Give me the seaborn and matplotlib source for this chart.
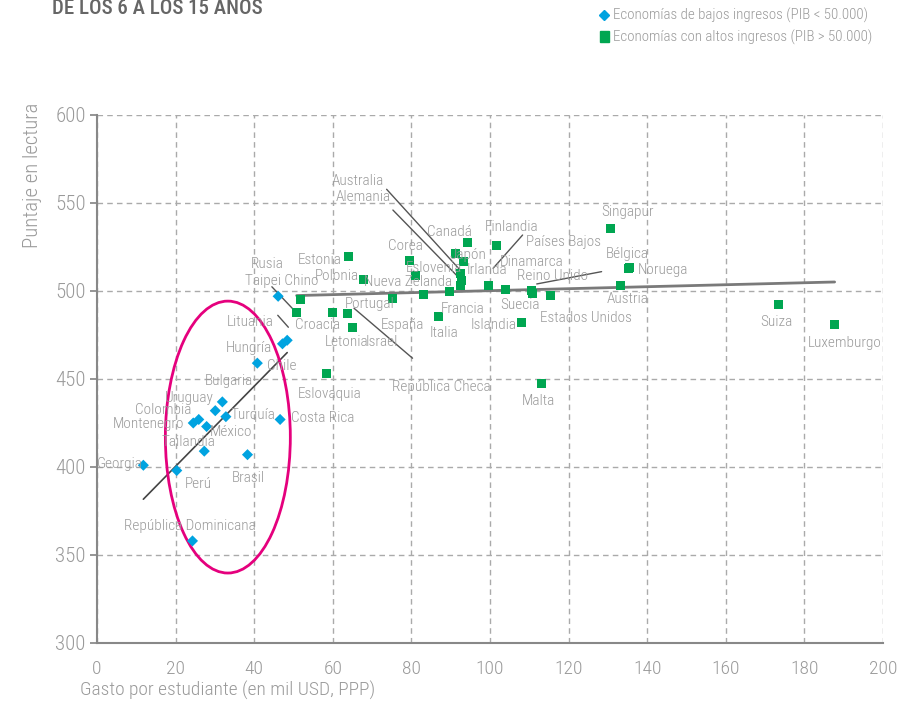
import matplotlib
matplotlib.use("Agg")
import matplotlib.pyplot as plt
from matplotlib.patches import Ellipse
from matplotlib.lines import Line2D
import pandas as pd
import seaborn as sns

# ── datos: economías de bajos ingresos ──
low_names = ["Georgia", "Perú", "República Dominicana", "Tailandia", "Montenegro",
             "Colombia", "México", "Uruguay", "Bulgaria", "Turquía", "Brasil",
             "Costa Rica", "Hungría", "Chile", "Lituania", "Rusia"]
low_gasto = [11.8, 20.3, 24.3, 27.3, 24.5, 25.9, 27.9, 30.1, 31.9, 32.8, 38.3,
             46.6, 40.8, 47.2, 48.4, 46.1]
low_lectura = [401, 398, 358, 409, 425, 427, 423, 432, 437, 428.6, 407,
               427, 459, 470, 472, 497]

# ── datos: economías de altos ingresos ──
high_names = ["Taipei Chino", "Croacia", "Letonia", "República Checa", "Israel",
              "Portugal", "España", "Nueva Zelanda", "Francia", "Australia",
              "Alemania", "Japón", "Irlanda", "Canadá", "Dinamarca", "Italia",
              "Eslovaquia", "Estonia", "Polonia", "Corea", "Eslovenia", "Finlandia",
              "Suecia", "Países Bajos", "Reino Unido", "Estados Unidos", "Singapur",
              "Noruega", "Bélgica", "Austria", "Islandia", "Malta", "Suiza",
              "Luxemburgo"]
high_gasto = [50.8, 51.7, 60.0, 63.7, 65.1, 75.1, 83.2, 89.6, 92.4, 92.4,
              92.8, 91.3, 93.2, 94.3, 99.6, 86.9, 58.4, 64.0, 67.8, 79.6, 81.1,
              101.7, 104.0, 110.6, 110.9, 115.3, 130.7, 135.5, 135.2, 133.1,
              107.9, 113.0, 173.4, 187.7]
high_lectura = [487.5, 495, 488, 487, 479, 496, 498, 499.6, 503, 510,
                506, 521.4, 516.5, 527.4, 503.4, 485.4, 453, 519.5, 506.6, 517.6, 509,
                525.6, 500.6, 500.2, 498.7, 497.7, 535.6, 513.5, 512.8, 503.4,
                482.2, 447.5, 492.4, 481]

# ── posiciones de etiquetas (coordenadas de datos) ──
LABEL_POS = {
    "Georgia": (5.9, 401.7), "Perú": (25.7, 390.3), "República Dominicana": (23.7, 366.5),
    "Tailandia": (23.2, 414.2), "Montenegro": (13.0, 424.4), "Colombia": (16.8, 432.4),
    "Uruguay": (23.4, 439.2), "Bulgaria": (33.6, 448.9), "Turquía": (39.7, 429.5),
    "México": (34.1, 419.9), "Brasil": (38.4, 393.8), "Costa Rica": (57.5, 427.8),
    "Chile": (47.1, 457.4), "Hungría": (38.7, 467.6), "Lituania": (38.9, 482.4),
    "Rusia": (43.3, 515.3), "Taipei Chino": (47.1, 505.7), "Croacia": (56.2, 480.7),
    "Estonia": (56.7, 517.6), "Polonia": (61.1, 508.5), "Nueva Zelanda": (79.1, 505.1),
    "Portugal": (69.5, 492.6), "España": (77.6, 480.7), "Letonia": (63.4, 471.0),
    "Israel": (72.5, 471.0), "Eslovaquia": (59.3, 441.5), "República Checa": (87.5, 445.5),
    "Italia": (88.3, 476.1), "Francia": (93.1, 489.8), "Islandia": (101.0, 480.7),
    "Suecia": (107.6, 492.0), "Estados Unidos": (124.4, 484.7), "Malta": (112.2, 437.5),
    "Corea": (78.4, 525.6), "Eslovenia": (85.8, 513.1), "Irlanda": (99.2, 511.9),
    "Japón": (94.4, 520.5), "Canadá": (89.6, 533.5), "Dinamarca": (110.7, 516.5),
    "Finlandia": (105.6, 536.4), "Países Bajos": (118.6, 527.8), "Reino Unido": (116.0, 508.5),
    "Australia": (66.4, 562.5), "Alemania": (67.7, 553.4), "Singapur": (135.1, 544.9),
    "Bélgica": (134.9, 521.0), "Noruega": (144.0, 511.9), "Austria": (135.1, 495.5),
    "Suiza": (173.0, 482.4), "Luxemburgo": (190.3, 470.5),
}

# líneas guía de etiquetas
LEADERS = [
    ((73.7, 557.8), (92.4, 511.9)),
    ((75.3, 546.0), (91.9, 508.0)),
    ((108.3, 531.8), (100.8, 512.9)),
    ((111.9, 504.0), (128.4, 511.0)),
    ((44.5, 502.4), (50.1, 489.2)),
    ((46.0, 486.2), (48.7, 479.4)),
    ((65.4, 490.2), (80.3, 461.8)),
]

BLUE = "#00a3e0"
GREEN = "#00a651"
GRAY = "#9a9a9a"
FONT = ["Roboto Condensed", "Open Sans Condensed", "Liberation Sans Narrow",
        "Roboto", "DejaVu Sans"]

sns.set_theme(style="white")
plt.rcParams["font.family"] = FONT
plt.rcParams["font.weight"] = "light"

low = pd.DataFrame({"pais": low_names, "gasto": low_gasto, "lectura": low_lectura})
high = pd.DataFrame({"pais": high_names, "gasto": high_gasto, "lectura": high_lectura})

fig = plt.figure(figsize=(9.21, 7.09), dpi=100)
ax = fig.add_axes([0.1053, 0.0931, 0.8534, 0.7447])

ax.set_xlim(0, 200)
ax.set_ylim(300, 600)
ax.set_xticks(range(0, 201, 20))
ax.set_yticks(range(300, 601, 50))
ax.grid(True, color="#aaaaaa", linestyle=(0, (4, 3)), linewidth=1)
ax.set_axisbelow(True)

# líneas de tendencia
sns.regplot(data=low, x="gasto", y="lectura", scatter=False, ci=None, ax=ax,
            line_kws={"color": "#444444", "linewidth": 1.2})
sns.regplot(data=high, x="gasto", y="lectura", scatter=False, ci=None, ax=ax,
            line_kws={"color": "#7a7a7a", "linewidth": 2})

sns.scatterplot(data=low, x="gasto", y="lectura", ax=ax, marker="D", s=32,
                color=BLUE, edgecolor="none", zorder=4)
sns.scatterplot(data=high, x="gasto", y="lectura", ax=ax, marker="s", s=42,
                color=GREEN, edgecolor="none", zorder=4)

for (x1, y1), (x2, y2) in LEADERS:
    ax.plot([x1, x2], [y1, y2], color="#555555", linewidth=1, zorder=3)

for name, (tx, ty) in LABEL_POS.items():
    ax.text(tx, ty, name, ha="center", va="center", fontsize=11, color=GRAY, zorder=5)

ax.add_patch(Ellipse((33.3, 417), 31.8, 154.5, fill=False, edgecolor="#e5007d",
                     linewidth=2, zorder=3))

for side in ["top", "right"]:
    ax.spines[side].set_visible(False)
for side in ["left", "bottom"]:
    ax.spines[side].set_color("#888888")
    ax.spines[side].set_linewidth(1.5)

ax.tick_params(axis="y", left=True, length=5, color="#888888", labelsize=15,
               labelcolor=GRAY, pad=3)
ax.tick_params(axis="x", bottom=False, labelsize=14, labelcolor=GRAY, pad=6)
ax.set_xlabel("")
ax.set_ylabel("")

fig.text(80 / 921, 1 - 690 / 709, "Gasto por estudiante (en mil USD, PPP)",
         ha="left", va="center", fontsize=14, color=GRAY)
fig.text(33 / 921, 1 - 175 / 709, "Puntaje en lectura", rotation=90,
         ha="center", va="center", fontsize=15, color=GRAY)

# título (recortado por el borde superior, como en el original)
fig.text(52 / 921, 1 - 14 / 709, "DE LOS 6 A LOS 15 AÑOS", ha="left", va="baseline",
         fontsize=15, fontweight="medium", color="#666666")

# leyenda
fig.add_artist(Line2D([604 / 921], [1 - 15 / 709], marker="D", markersize=5,
                      color=BLUE, linestyle="none", transform=fig.transFigure))
fig.text(613 / 921, 1 - 15 / 709, "Economías de bajos ingresos (PIB < 50.000)",
         ha="left", va="center", fontsize=10.8, color=GRAY)
fig.add_artist(plt.Rectangle((600 / 921, 1 - 42 / 709), 9 / 921, 11 / 709,
                             color=GREEN, transform=fig.transFigure))
fig.text(613 / 921, 1 - 37 / 709, "Economías con altos ingresos (PIB > 50.000)",
         ha="left", va="center", fontsize=10.8, color=GRAY)

fig.savefig("out.png", dpi=100)
